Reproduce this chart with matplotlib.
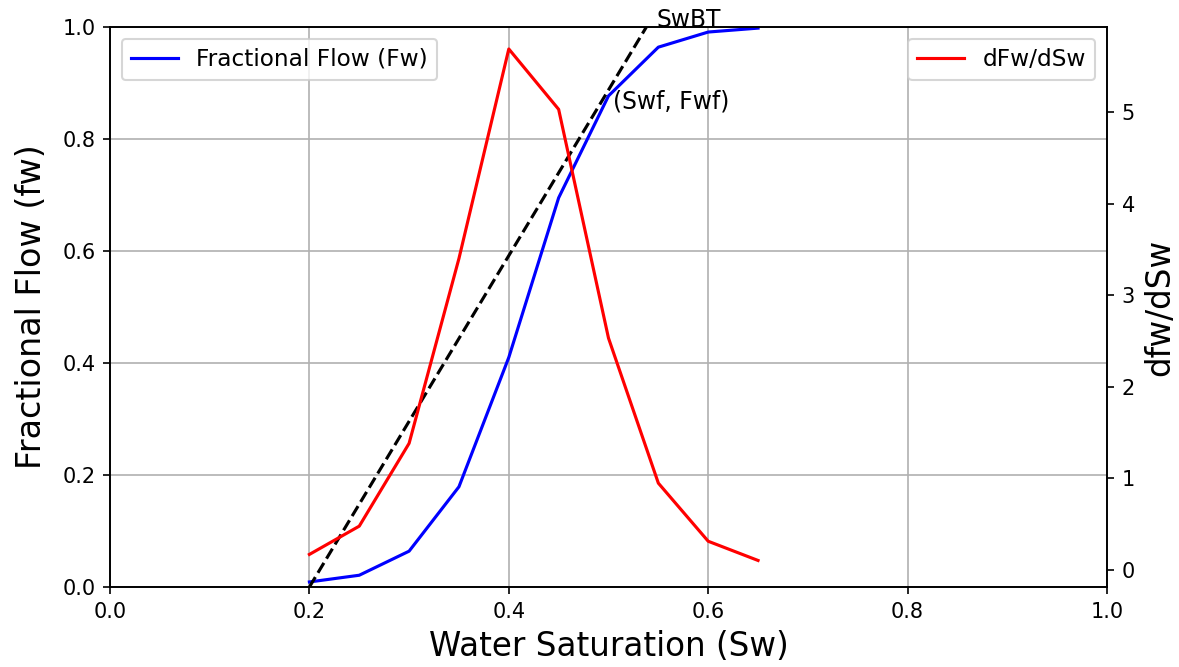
import matplotlib.pyplot as plt

# Water saturation points and curves
sw = [0.20, 0.25, 0.30, 0.35, 0.40, 0.45, 0.50, 0.55, 0.60, 0.65]
fw = [0.009, 0.021, 0.064, 0.179, 0.410, 0.695, 0.877, 0.964, 0.991, 0.998]
dfw_dsw = [0.166, 0.475, 1.38, 3.40, 5.69, 5.03, 2.53, 0.945, 0.31, 0.10]

# tangent line from initial saturation to breakthrough
tangent_sw = [0.20, 0.538]
tangent_fw = [0.0, 1.0]
swbt = 0.548
swf, fwf = 0.505, 0.855

fig = plt.figure(figsize=(1179 / 150, 667 / 150), dpi=150)
ax1 = fig.add_axes([110 / 1179, 1 - 587 / 667, 997 / 1179, 560 / 667])

ax1.plot(sw, fw, color="blue", label="Fractional Flow (Fw)")
ax1.plot(tangent_sw, tangent_fw, "k--")
ax1.text(swbt, 1.0, "SwBT", fontsize=11.3)
ax1.text(swf, fwf, "(Swf, Fwf)", fontsize=11.3)
ax1.set_xlim(0, 1)
ax1.set_ylim(0, 1)
ax1.set_xlabel("Water Saturation (Sw)", fontsize=15.7)
ax1.set_ylabel("Fractional Flow (fw)", fontsize=16, labelpad=7)
ax1.grid(True)
ax1.legend(loc="upper left", fontsize=11.2)

ax2 = ax1.twinx()
ax2.plot(sw, dfw_dsw, color="red", label="dFw/dSw")
ax2.set_ylim(-0.19, 5.93)
ax2.set_ylabel("dfw/dSw", fontsize=15.7)
ax2.legend(loc="upper right", fontsize=11.2)

fig.savefig("out.png", dpi=150)
